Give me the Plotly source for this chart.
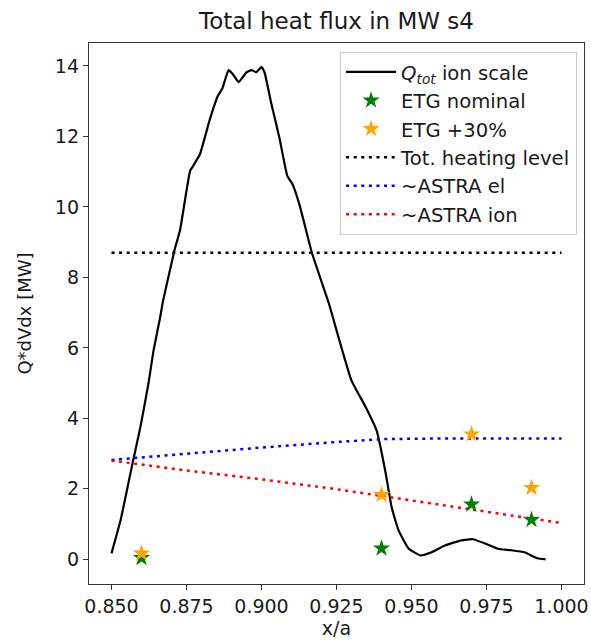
import plotly.graph_objects as go

# Main curve: Q_tot ion scale
x_q = [0.850, 0.853, 0.857, 0.8596, 0.8623, 0.864, 0.8662, 0.8672, 0.8712, 0.8728, 0.8762, 0.8772,
       0.8795, 0.8828, 0.8854, 0.887, 0.889, 0.8904, 0.8924, 0.895, 0.8967, 0.8983, 0.900, 0.901,
       0.9033, 0.906, 0.9086, 0.9103, 0.9126, 0.9169, 0.9225, 0.926, 0.930, 0.9348, 0.9384, 0.9397,
       0.9414, 0.9434, 0.9457, 0.949, 0.953, 0.9567, 0.9613, 0.9666, 0.9705, 0.9745, 0.9788, 0.9831,
       0.9877, 0.992, 0.9947]
y_q = [0.17, 1.1, 2.72, 3.74, 4.98, 5.92, 6.86, 7.34, 8.84, 9.32, 11.02, 11.16,
       11.5, 12.49, 13.14, 13.37, 13.88, 13.77, 13.54, 13.82, 13.88, 13.82, 13.97, 13.82,
       12.92, 11.95, 10.88, 10.65, 10.08, 8.67, 7.25, 6.2, 5.07, 4.31, 3.65, 3.17,
       2.44, 1.47, 0.82, 0.31, 0.11, 0.2, 0.4, 0.54, 0.57, 0.45, 0.3, 0.26,
       0.2, 0.03, 0.0]

# ETG markers
x_etg = [0.86, 0.94, 0.97, 0.99]
y_etg_nom = [0.04, 0.31, 1.56, 1.12]
y_etg_30 = [0.17, 1.83, 3.55, 2.03]

# Reference levels
x_heat = [0.85, 1.0]
y_heat = [8.7, 8.7]
x_el = [0.85, 0.875, 0.9, 0.925, 0.94, 0.96, 1.0]
y_el = [2.82, 3.0, 3.17, 3.33, 3.41, 3.43, 3.43]
x_ion = [0.85, 0.875, 0.9, 0.925, 0.95, 0.975, 1.0]
y_ion = [2.8, 2.52, 2.27, 1.99, 1.67, 1.35, 1.03]

x_ticks = [0.85, 0.875, 0.9, 0.925, 0.95, 0.975, 1.0]
x_ticklabels = ["0.850", "0.875", "0.900", "0.925", "0.950", "0.975", "1.000"]
y_ticks = [0, 2, 4, 6, 8, 10, 12, 14]

FONT = "DejaVu Sans"
TXT = "#1a1a1a"
dot = "3px,4.6px"

fig = go.Figure()
fig.add_trace(go.Scatter(x=x_q, y=y_q, mode="lines",
                         line=dict(color="black", width=2.2, shape="spline", smoothing=0.4),
                         name="<i>Q</i><sub><i>tot</i></sub> ion scale", legendrank=1))
fig.add_trace(go.Scatter(x=x_heat, y=y_heat, mode="lines", line=dict(color="black", width=2.5, dash=dot),
                         name="Tot. heating level", legendrank=4))
fig.add_trace(go.Scatter(x=x_el, y=y_el, mode="lines", line=dict(color="blue", width=2.5, dash=dot),
                         name="~ASTRA el", legendrank=5))
fig.add_trace(go.Scatter(x=x_ion, y=y_ion, mode="lines", line=dict(color="red", width=2.5, dash=dot),
                         name="~ASTRA ion", legendrank=6))
fig.add_trace(go.Scatter(x=x_etg, y=y_etg_nom, mode="markers",
                         marker=dict(symbol="star", size=13, color="green", line=dict(width=0)),
                         name="ETG nominal", legendrank=2))
fig.add_trace(go.Scatter(x=x_etg, y=y_etg_30, mode="markers",
                         marker=dict(symbol="star", size=13, color="orange", line=dict(width=0)),
                         name="ETG +30%", legendrank=3))

fig.update_layout(
    width=591, height=640,
    margin=dict(l=89, r=7, t=43, b=56),
    plot_bgcolor="white", paper_bgcolor="white",
    font=dict(family=FONT, size=19, color=TXT),
    title=dict(text="Total heat flux in MW s4", x=0.5, xref="paper", y=1 - 21/640, yanchor="middle",
               font=dict(family=FONT, size=23, color=TXT)),
    legend=dict(x=0.986, y=0.984, xanchor="right", yanchor="top",
                bordercolor="#cccccc", borderwidth=1, bgcolor="white",
                font=dict(family=FONT, size=19.6, color=TXT),
                itemwidth=50, tracegroupgap=0),
    showlegend=True,
)

fig.update_xaxes(range=[0.8425, 1.0075], tickvals=x_ticks, ticktext=x_ticklabels,
                 ticks="outside", ticklen=5, tickwidth=1.2, tickcolor="#333",
                 showline=True, linecolor="#333", linewidth=1.3, mirror=True,
                 showgrid=False, zeroline=False, automargin=False,
                 title=dict(text="x/a", font=dict(family=FONT, size=19, color=TXT), standoff=2),
                 tickfont=dict(family=FONT, size=19, color=TXT))
fig.update_yaxes(range=[-0.7, 14.65], tickvals=y_ticks,
                 ticks="outside", ticklen=5, tickwidth=1.2, tickcolor="#333",
                 showline=True, linecolor="#333", linewidth=1.3, mirror=True,
                 showgrid=False, zeroline=False, automargin=False,
                 title=dict(text="Q*dVdx [MW]", font=dict(family=FONT, size=18, color=TXT), standoff=18),
                 tickfont=dict(family=FONT, size=19, color=TXT))

fig.write_html("out.html")
